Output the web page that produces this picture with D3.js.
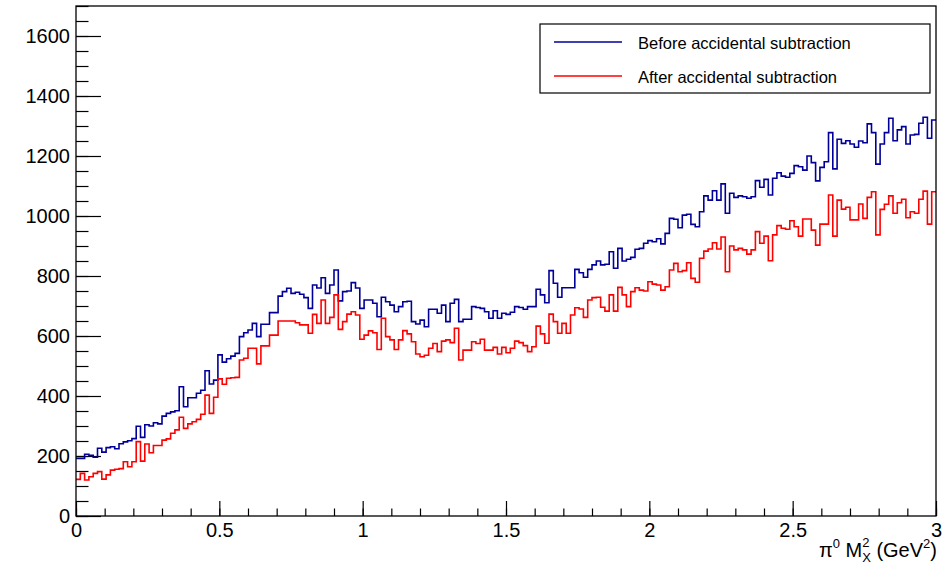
<!DOCTYPE html>
<html>
<head>
<meta charset="utf-8">
<script src="https://cdn.jsdelivr.net/npm/d3@7"></script>
<style>
  html, body { margin: 0; padding: 0; background: #fff; }
  svg { display: block; font-family: "Liberation Sans", Arial, Helvetica, sans-serif; }
</style>
</head>
<body>
<svg id="chart" width="950" height="565"></svg>
<script>
// Histogram range: 200 bins between 0 and 3 GeV^2
const xRange = [0, 3];
const yRange = [0, 1700];

// Counts per bin before accidental subtraction
const beforeCounts = [
  192,192,206,202,196,226,213,228,231,224, 241,247,251,258,299,262,304,300,311,307,
  333,342,347,351,431,364,394,394,409,419, 484,440,453,537,513,524,533,542,598,611,
  620,642,598,639,639,678,678,733,748,759, 742,746,739,728,692,770,760,794,742,770,
  820,717,748,750,778,760,692,720,720,709, 664,729,714,703,681,698,714,716,648,640,
  653,631,689,689,676,703,648,709,722,648, 656,656,698,695,692,681,659,684,659,676,
  672,679,698,695,689,698,698,756,737,711, 818,776,729,761,761,761,822,811,796,822,
  837,850,837,839,881,826,892,850,856,862, 889,892,909,918,914,924,907,942,992,989,
  961,1003,1006,972,964,1014,1067,1053,1084,1053, 1107,1009,1076,1062,1067,1064,1059,1064,1118,1096,
  1122,1070,1126,1144,1133,1129,1142,1168,1164,1153, 1200,1178,1117,1162,1181,1278,1157,1256,1242,1251,
  1240,1229,1250,1244,1307,1278,1173,1240,1278,1326, 1251,1287,1298,1240,1270,1272,1309,1329,1259,1320
];

// Counts per bin after accidental subtraction
const afterCounts = [
  122,142,120,131,142,148,123,137,153,156, 158,181,164,181,248,183,240,211,235,235,
  253,257,276,287,329,292,307,314,322,339, 403,342,396,457,439,459,461,462,520,526,
  559,559,507,567,567,603,603,650,650,650, 650,644,637,637,609,672,642,720,642,662,
  737,622,648,673,681,670,589,603,617,611, 555,659,598,587,555,587,618,607,581,540,
  531,536,559,575,548,583,587,578,626,520, 553,553,581,575,589,553,553,562,540,562,
  544,559,583,578,568,548,564,633,607,576, 673,648,609,642,609,670,694,690,662,720,
  728,729,696,683,737,683,762,737,698,748, 761,753,750,781,773,770,753,764,820,842,
  814,818,844,792,779,859,883,890,911,890, 930,814,900,887,892,887,873,887,948,909,
  933,851,937,968,959,956,984,964,933,990, 990,953,903,973,973,1070,933,1053,1023,1029,
  987,987,1040,992,1062,1081,937,1022,1039,1067, 1009,1044,1056,994,1014,1009,1056,1083,973,1081
];

const xMajorTicks = [0, 0.5, 1, 1.5, 2, 2.5, 3];
const xMinorTicks = d3.range(0, 31).map(k => k / 10);
const yMajorTicks = [0, 200, 400, 600, 800, 1000, 1200, 1400, 1600];
const yMinorTicks = d3.range(0, 35).map(k => k * 50);

const seriesNames = ["Before accidental subtraction", "After accidental subtraction"];
const seriesColors = ["#000099", "#ff0000"];

// Frame geometry
const frame = { left: 76, right: 936, top: 6, bottom: 516 };

const svg = d3.select("#chart");
const x = d3.scaleLinear().domain(xRange).range([frame.left, frame.right]);
const y = d3.scaleLinear().domain(yRange).range([frame.bottom, frame.top]);

const labelFont = 20;

// Minor ticks (drawn inward)
const xMinorAxis = d3.axisBottom(x).tickValues(xMinorTicks).tickSize(-7.5).tickFormat("");
const yMinorAxis = d3.axisLeft(y).tickValues(yMinorTicks).tickSize(-12.5).tickFormat("");
svg.append("g").attr("transform", `translate(0,${frame.bottom})`).call(xMinorAxis);
svg.append("g").attr("transform", `translate(${frame.left},0)`).call(yMinorAxis);

// Major ticks with labels
const xAxis = d3.axisBottom(x).tickValues(xMajorTicks).tickSize(-15).tickPadding(7)
  .tickFormat(d => String(d));
const yAxis = d3.axisLeft(y).tickValues(yMajorTicks).tickSize(-25).tickPadding(6)
  .tickFormat(d => String(d));
svg.append("g").attr("class", "xaxis").attr("transform", `translate(0,${frame.bottom})`).call(xAxis);
svg.append("g").attr("class", "yaxis").attr("transform", `translate(${frame.left},0)`).call(yAxis);

svg.selectAll(".domain").remove();
svg.selectAll(".tick line").attr("stroke", "#000").attr("stroke-width", 1.2);
svg.selectAll(".tick text")
  .attr("fill", "#000")
  .style("font-size", labelFont + "px")
  .style("font-family", "'Liberation Sans', Arial, sans-serif");

// Histogram outlines
const nBins = beforeCounts.length;
const binWidth = (xRange[1] - xRange[0]) / nBins;
const stepLine = d3.line()
  .x(d => x(d[0]))
  .y(d => y(d[1]))
  .curve(d3.curveStepAfter);

function stepPoints(counts) {
  const pts = counts.map((v, i) => [xRange[0] + i * binWidth, v]);
  pts.push([xRange[1], counts[counts.length - 1]]);
  return pts;
}

const plot = svg.append("g");
plot.append("path")
  .attr("d", stepLine(stepPoints(beforeCounts)))
  .attr("fill", "none")
  .attr("stroke", seriesColors[0])
  .attr("stroke-width", 1.6);
plot.append("path")
  .attr("d", stepLine(stepPoints(afterCounts)))
  .attr("fill", "none")
  .attr("stroke", seriesColors[1])
  .attr("stroke-width", 1.6);

// Frame
svg.append("rect")
  .attr("x", frame.left).attr("y", frame.top)
  .attr("width", frame.right - frame.left)
  .attr("height", frame.bottom - frame.top)
  .attr("fill", "none").attr("stroke", "#000").attr("stroke-width", 1.3);

// Axis title: pi0 M_X^2 (GeV^2), laid out piece by piece, right-aligned to the frame
const titleBase = 557;
const titleGroup = svg.append("g");
let cursor = 0;
function titlePiece(str, size, shift, advance = true) {
  const t = titleGroup.append("text")
    .attr("x", cursor).attr("y", titleBase + shift)
    .style("font-size", size + "px")
    .attr("fill", "#000")
    .text(str);
  const w = t.node().getComputedTextLength();
  if (advance) cursor += w;
  return w;
}
titlePiece("π", 20, 0);
titlePiece("0", 13, -9);
cursor += 5.5;
titlePiece("M", 20, 0);
const wSup = titlePiece("2", 13, -10, false);
const wSub = titlePiece("X", 13, 5, false);
cursor += Math.max(wSup, wSub) + 5.5;
titlePiece("(GeV", 20, 0);
titlePiece("2", 13, -9);
titlePiece(")", 20, 0);
titleGroup.attr("transform", `translate(${frame.right + 1 - cursor},0)`);

// Legend
const legend = svg.append("g");
legend.append("rect")
  .attr("x", 540).attr("y", 24).attr("width", 390).attr("height", 69)
  .attr("fill", "#fff").attr("stroke", "#000").attr("stroke-width", 1.2);
const legendRows = [42, 76];
seriesNames.forEach((name, i) => {
  legend.append("line")
    .attr("x1", 554).attr("x2", 622)
    .attr("y1", legendRows[i]).attr("y2", legendRows[i])
    .attr("stroke", seriesColors[i]).attr("stroke-width", 1.4);
  legend.append("text")
    .attr("x", 638).attr("y", legendRows[i] + 7)
    .style("font-size", "16.5px")
    .attr("fill", "#000")
    .text(name);
});
</script>
</body>
</html>
